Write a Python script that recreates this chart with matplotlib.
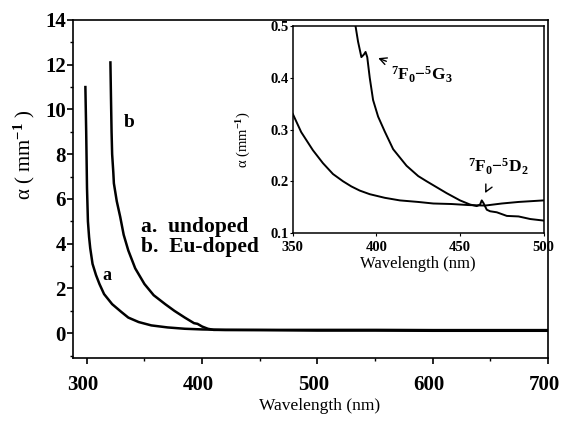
import matplotlib
matplotlib.use('Agg')
import matplotlib.pyplot as plt
from matplotlib.ticker import MultipleLocator
from matplotlib.transforms import ScaledTranslation

plt.rcParams['font.family'] = 'Liberation Serif'
plt.rcParams['font.weight'] = 'bold'
plt.rcParams['mathtext.fontset'] = 'custom'
plt.rcParams['mathtext.rm'] = 'Liberation Serif:bold'
plt.rcParams['mathtext.it'] = 'Liberation Serif:bold'
plt.rcParams['mathtext.bf'] = 'Liberation Serif:bold'

# main plot data
wl_a = [298.8, 299.5, 300.2, 301, 302, 303, 305, 308, 311, 315, 322, 330, 336, 345, 356, 370, 385, 400,
        420, 450, 500, 550, 600, 650, 700]
alpha_a = [11.0, 9.0, 6.5, 5.0, 4.3, 3.8, 3.1, 2.6, 2.2, 1.75, 1.3, 0.95, 0.7, 0.5, 0.35, 0.26, 0.2, 0.17,
           0.15, 0.15, 0.15, 0.15, 0.14, 0.14, 0.14]
wl_b = [320.5, 321, 321.5, 322, 323, 323.5, 326, 329, 332, 336, 342, 350, 358, 368, 376, 385, 393, 396,
        400, 405, 410, 450, 500, 550, 600, 650, 700]
alpha_b = [12.1, 10.5, 9.0, 8.0, 7.2, 6.7, 5.9, 5.2, 4.4, 3.7, 2.9, 2.2, 1.7, 1.3, 1.0, 0.7, 0.45, 0.42,
           0.3, 0.2, 0.15, 0.14, 0.12, 0.12, 0.11, 0.11, 0.11]

# inset data
wl_a_in = [350, 355, 362, 368, 374, 380, 385, 390, 396, 405, 414, 425, 434, 445, 455, 465, 475, 485, 500]
alpha_a_in = [0.33, 0.295, 0.26, 0.235, 0.214, 0.20, 0.19, 0.182, 0.175, 0.168, 0.163, 0.16, 0.157,
              0.156, 0.154, 0.153, 0.157, 0.16, 0.163]
wl_b_in = [386.5, 389, 391, 392.5, 393.5, 394.5, 396, 398, 401, 405, 410, 418, 425, 430, 442, 450, 456,
           460, 462, 463, 464, 466, 468, 472, 478, 485, 492, 500]
alpha_b_in = [0.52, 0.47, 0.44, 0.445, 0.45, 0.44, 0.40, 0.357, 0.325, 0.296, 0.262, 0.23, 0.21, 0.2,
              0.177, 0.163, 0.155, 0.152, 0.155, 0.163, 0.158, 0.145, 0.142, 0.14, 0.133, 0.132, 0.127,
              0.124]

fig = plt.figure(figsize=(5.61, 4.24), dpi=100)
ax = fig.add_axes([0.130, 0.156, 0.847, 0.797])
ax.plot(wl_a, alpha_a, color='black', lw=1.8)
ax.plot(wl_b, alpha_b, color='black', lw=1.8)
ax.set_xlim(288, 700)
ax.set_ylim(-1.1, 14)
ax.xaxis.set_major_locator(MultipleLocator(100))
ax.xaxis.set_minor_locator(MultipleLocator(50))
ax.yaxis.set_minor_locator(MultipleLocator(1))
ax.set_yticks([0, 2, 4, 6, 8, 10, 12, 14])
ax.tick_params(which='major', direction='out', length=4, width=1.2, labelsize=15)
ax.tick_params(axis='y', which='major', pad=1)
ax.tick_params(axis='x', which='major', pad=8)
ax.tick_params(which='minor', direction='out', length=2, width=1)
for s in ax.spines.values():
    s.set_linewidth(1.2)
# x tick labels sit a bit left of their ticks in the original
shift = ScaledTranslation(-4 / 100, 0, fig.dpi_scale_trans)
for lab in ax.get_xticklabels():
    lab.set_transform(lab.get_transform() + shift)

ax.set_xlabel('Wavelength (nm)', fontsize=12.5)
ax.xaxis.set_label_coords(0.52, -0.118)
ax.set_ylabel(r'α ( mm$^{-1}$ )', fontsize=15)
ax.yaxis.set_label_coords(-0.075, 0.6)

ax.text(337, 9.4, 'b', fontsize=14, ha='center', va='center')
ax.text(317.5, 2.6, 'a', fontsize=13, ha='center', va='center')
ax.text(347, 4.75, 'a.  undoped', fontsize=15.5, va='center')
ax.text(347, 3.85, 'b.  Eu-doped', fontsize=15.5, va='center')

# inset
axin = fig.add_axes([0.522, 0.4505, 0.447, 0.488])
axin.plot(wl_a_in, alpha_a_in, color='black', lw=1.4)
axin.plot(wl_b_in, alpha_b_in, color='black', lw=1.4)
axin.set_xlim(350, 500)
axin.set_ylim(0.1, 0.5)
axin.set_xticks([350, 400, 450, 500])
axin.set_yticks([0.1, 0.2, 0.3, 0.4, 0.5])
axin.tick_params(direction='out', length=2, labelsize=10.5, pad=1)
axin.tick_params(axis='x', pad=4)
for s in axin.spines.values():
    s.set_linewidth(1.1)
axin.set_xlabel('Wavelength (nm)', fontsize=12)
axin.xaxis.set_label_coords(0.5, -0.11)
axin.set_ylabel(r'α (mm$^{-1}$)', fontsize=10.5)
axin.yaxis.set_label_coords(-0.16, 0.45)

axin.annotate(r'$^{7}$F$_{0}$$-$$^{5}$G$_{3}$', xy=(399.5, 0.44), xytext=(409, 0.405),
              fontsize=12.5, va='center', arrowprops=dict(arrowstyle='->', color='black', lw=1))
axin.annotate(r'$^{7}$F$_{0}$$-$$^{5}$D$_{2}$', xy=(465, 0.177), xytext=(473, 0.228),
              fontsize=12.5, ha='center', va='center',
              arrowprops=dict(arrowstyle='->', color='black', lw=1, shrinkA=9))

fig.savefig('out.png', dpi=100)
